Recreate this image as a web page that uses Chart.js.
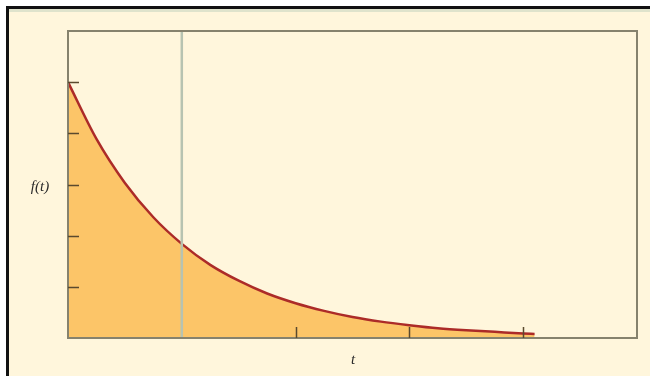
<!DOCTYPE html>
<html>
<head>
<meta charset="utf-8">
<script src="https://cdn.jsdelivr.net/npm/chart.js@4.4.1/dist/chart.umd.min.js"></script>
<style>
    html, body { margin: 0; padding: 0; background: #ffffff; }
    #frame {
        position: absolute; left: 6px; top: 6px; width: 644px; height: 370px;
        box-sizing: border-box;
        border-left: 3px solid #111;
        border-top: 3px solid #111;
        background: #fff6dc;
        box-shadow: inset 0 3px 0 #dfe3cc;
    }
    #wrap { position: absolute; left: 0; top: 0; width: 650px; height: 376px; }
</style>
</head>
<body>
<div id="frame"></div>
<div id="wrap"><canvas id="DecayChart" width="650" height="376"></canvas></div>
<script>
// values
const tValues = [0, 0.25, 0.5, 0.75, 1, 1.25, 1.5, 1.75, 2, 2.25, 2.5, 2.75, 3, 3.25, 3.5, 3.75, 4, 4.1];
const fValues = [5.00, 3.89, 3.03, 2.36, 1.84, 1.43, 1.12, 0.87, 0.68, 0.53, 0.41, 0.32, 0.25, 0.19, 0.15, 0.12, 0.09, 0.08];
const yTicks = [1, 2, 3, 4, 5];
const xTicks = [2, 3, 4];
const markerT = 1;
const xLabel = 't';
const yLabel = 'f(t)';

const points = tValues.map((t, i) => ({ x: t, y: fValues[i] }));

// frame, inside ticks, marker line and axis labels
const decoration = {
    id: 'decoration',
    afterDatasetsDraw(chart) {
        const { ctx, chartArea: a, scales: { x, y } } = chart;
        ctx.save();

        // vertical marker line
        const mx = x.getPixelForValue(markerT);
        ctx.strokeStyle = '#b7c3b1';
        ctx.lineWidth = 2.5;
        ctx.beginPath();
        ctx.moveTo(mx, a.top);
        ctx.lineTo(mx, a.bottom);
        ctx.stroke();

        // plot border
        ctx.strokeStyle = '#86826d';
        ctx.lineWidth = 2;
        ctx.strokeRect(a.left, a.top, a.right - a.left, a.bottom - a.top);

        // ticks pointing inward
        ctx.strokeStyle = '#5a4a2e';
        ctx.lineWidth = 1.5;
        ctx.beginPath();
        yTicks.forEach(v => {
            const py = Math.round(y.getPixelForValue(v)) + 0.5;
            ctx.moveTo(a.left, py);
            ctx.lineTo(a.left + 11, py);
        });
        xTicks.forEach(v => {
            const px = Math.round(x.getPixelForValue(v)) + 0.5;
            ctx.moveTo(px, a.bottom);
            ctx.lineTo(px, a.bottom - 11);
        });
        ctx.stroke();

        // axis labels
        ctx.fillStyle = '#2a2a2a';
        ctx.font = 'italic 15px "Liberation Serif", "DejaVu Serif", serif';
        ctx.textAlign = 'center';
        ctx.textBaseline = 'middle';
        ctx.fillText(yLabel, 40, 187);
        ctx.fillText(xLabel, 353, 360);
        ctx.restore();
    }
};

new Chart(document.getElementById('DecayChart'), {
    type: 'line',
    data: {
        datasets: [{
            data: points,
            borderColor: '#ac2b28',
            borderWidth: 2.5,
            backgroundColor: '#fcc568',
            fill: 'origin',
            pointRadius: 0,
            cubicInterpolationMode: 'monotone',
        }]
    },
    options: {
        responsive: false,
        animation: false,
        layout: {
            padding: { left: 68, top: 31, right: 13, bottom: 38 }
        },
        plugins: {
            legend: { display: false },
            tooltip: { enabled: false },
        },
        scales: {
            x: { type: 'linear', min: 0, max: 5, display: false },
            y: { min: 0, max: 6, display: false }
        }
    },
    plugins: [decoration]
});
</script>
</body>
</html>
